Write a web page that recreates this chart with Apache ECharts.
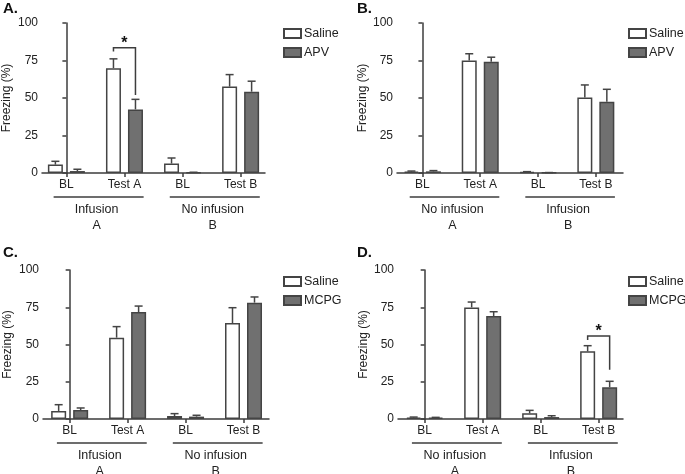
<!DOCTYPE html>
<html><head><meta charset="utf-8">
<script src="https://cdn.jsdelivr.net/npm/echarts@6/dist/echarts.min.js"></script>
<style>html,body{margin:0;padding:0;background:#fff}#c{width:685px;height:474px}</style>
</head><body><div id="c"></div>
<script>
// ---- data ----
const categories = ['BL', 'Test A', 'BL', 'Test B'];
const groupsAC = ['Infusion', 'No infusion'];
const groupsBD = ['No infusion', 'Infusion'];
const contexts = ['A', 'B'];

const salineA = [5.6, 69.9, 6.3, 57.6];
const salineErrA = [2.2, 6.2, 3.7, 8.0];
const apvA = [1.3, 42.4, 0.3, 54.2];
const apvErrA = [1.2, 6.7, 0.2, 7.0];

const salineB = [0.9, 75.0, 0.7, 50.4];
const salineErrB = [0.4, 4.5, 0.2, 8.3];
const apvB = [1.1, 74.1, 0.2, 47.5];
const apvErrB = [0.5, 3.1, 0.1, 8.3];

const salineC = [5.4, 54.6, 2.0, 64.4];
const salineErrC = [4.2, 7.4, 1.6, 10.3];
const mcpgC = [6.0, 71.8, 1.6, 78.1];
const mcpgErrC = [1.4, 4.0, 0.9, 3.8];

const salineD = [0.9, 74.9, 3.8, 45.4];
const salineErrD = [0.4, 3.6, 2.0, 3.8];
const mcpgD = [0.9, 69.1, 1.3, 21.3];
const mcpgErrD = [0.2, 2.9, 0.9, 4.0];

// significance brackets: [category index, left leg bottom, right leg bottom, top]
const sigA = [[1, 81, 52, 83.5]];
const sigD = [[3, 53, 33, 55.7]];

// ---- style ----
const FONT = 'Liberation Sans, Arial, Helvetica, sans-serif';
const TXT = '#222';
const LINE = '#3d3d3d';
const BAR_W = 15;
const BAR_GAP = 0.467;
const HALF_OFF = (BAR_W + BAR_W * BAR_GAP) / 2;

const panels = [
  {label: 'A.', grid: {left: 42, top: 23, width: 223, height: 150}, xr: [-0.42, 3.42], nameGap: 29,
   saline: salineA, salineErr: salineErrA, drug: apvA, drugErr: apvErrA, drugName: 'APV', groups: groupsAC, sig: sigA,
   legend: {left: 283, top: 27}, title: {left: 3, top: 1}},
  {label: 'B.', grid: {left: 397, top: 23, width: 226, height: 150}, xr: [-0.44, 3.47], nameGap: 27,
   saline: salineB, salineErr: salineErrB, drug: apvB, drugErr: apvErrB, drugName: 'APV', groups: groupsBD, sig: [],
   legend: {left: 628, top: 27}, title: {left: 357, top: 1}},
  {label: 'C.', grid: {left: 43, top: 270, width: 226, height: 149}, xr: [-0.46, 3.44], nameGap: 29,
   saline: salineC, salineErr: salineErrC, drug: mcpgC, drugErr: mcpgErrC, drugName: 'MCPG', groups: groupsAC, sig: [],
   legend: {left: 283, top: 275}, title: {left: 3, top: 245}},
  {label: 'D.', grid: {left: 398, top: 270, width: 225, height: 149}, xr: [-0.46, 3.42], nameGap: 27,
   saline: salineD, salineErr: salineErrD, drug: mcpgD, drugErr: mcpgErrD, drugName: 'MCPG', groups: groupsBD, sig: sigD,
   legend: {left: 628, top: 275}, title: {left: 357, top: 245}}
];

const grids = [], xAxes = [], yAxes = [], series = [], legends = [], titles = [];

panels.forEach((p, i) => {
  grids.push(Object.assign({containLabel: false}, p.grid));
  titles.push({text: p.label, left: p.title.left, top: p.title.top, padding: 0,
    textStyle: {fontFamily: FONT, fontSize: 15, fontWeight: 'bold', color: '#111'}});
  xAxes.push({
    type: 'value', gridIndex: i, min: p.xr[0], max: p.xr[1],
    splitLine: {show: false},
    axisLine: {show: true, lineStyle: {color: LINE, width: 1.5}},
    axisTick: {show: true, customValues: [0, 1, 2, 3], length: 4, lineStyle: {color: LINE, width: 1.5}},
    axisLabel: {customValues: [0, 1, 2, 3], formatter: v => categories[Math.round(v)],
      margin: 6, fontSize: 12, fontFamily: FONT, color: TXT}
  });
  yAxes.push({
    type: 'value', gridIndex: i, min: 0, max: 100, interval: 25,
    name: 'Freezing (%)', nameLocation: 'middle', nameGap: p.nameGap,
    nameTextStyle: {fontSize: 12, fontFamily: FONT, color: TXT},
    splitLine: {show: false},
    axisLine: {show: true, lineStyle: {color: LINE, width: 1.5}},
    axisTick: {show: true, length: 4, lineStyle: {color: LINE, width: 1.5}},
    axisLabel: {margin: 4, fontSize: 12, fontFamily: FONT, color: TXT}
  });
  legends.push({
    left: p.legend.left, top: p.legend.top, orient: 'vertical', icon: 'rect',
    itemWidth: 17, itemHeight: 9, itemGap: 6, padding: 0,
    data: ['Saline', p.drugName],
    textStyle: {fontSize: 12.5, fontFamily: FONT, color: TXT, padding: [0, 0, 0, -2]},
    selectedMode: false
  });
  series.push({
    type: 'bar', name: 'Saline', xAxisIndex: i, yAxisIndex: i,
    barWidth: BAR_W, barGap: (BAR_GAP * 100) + '%',
    itemStyle: {color: '#fff', borderColor: '#444', borderWidth: 1.5},
    data: p.saline.map((v, k) => [k, v]), z: 2
  });
  series.push({
    type: 'bar', name: p.drugName, xAxisIndex: i, yAxisIndex: i,
    barWidth: BAR_W, barGap: (BAR_GAP * 100) + '%',
    itemStyle: {color: '#707070', borderColor: '#444', borderWidth: 1.5},
    data: p.drug.map((v, k) => [k, v]), z: 2
  });
  // error bars
  const errData = [];
  p.saline.forEach((v, k) => errData.push([k, v, p.salineErr[k], -1]));
  p.drug.forEach((v, k) => errData.push([k, v, p.drugErr[k], 1]));
  series.push({
    type: 'custom', name: 'err' + i, xAxisIndex: i, yAxisIndex: i, clip: false, z: 3,
    encode: {x: 0, y: 1},
    data: errData,
    renderItem: (params, api) => {
      const x = api.value(0), y = api.value(1), e = api.value(2), s = api.value(3);
      const p0 = api.coord([x, y]);
      const p1 = api.coord([x, y + e]);
      const cx = p0[0] + s * HALF_OFF;
      const st = {stroke: '#444', lineWidth: 1.5};
      return {type: 'group', children: [
        {type: 'line', shape: {x1: cx, y1: p0[1], x2: cx, y2: p1[1]}, style: st},
        {type: 'line', shape: {x1: cx - 4, y1: p1[1], x2: cx + 4, y2: p1[1]}, style: st}
      ]};
    }
  });
  // group brackets below axis
  series.push({
    type: 'custom', name: 'grp' + i, xAxisIndex: i, yAxisIndex: i, clip: false, silent: true,
    encode: {x: 0, y: 1},
    data: [[0, 0], [2, 0]],
    renderItem: (params, api) => {
      const g = api.value(0);
      const idx = params.dataIndex;
      const a = api.coord([g - 0.22, 0]);
      const b = api.coord([g + 1.33, 0]);
      const c = api.coord([g + 0.52, 0]);
      return {type: 'group', children: [
        {type: 'line', shape: {x1: a[0], y1: a[1] + 24, x2: b[0], y2: b[1] + 24},
          style: {stroke: LINE, lineWidth: 1.5}},
        {type: 'text', x: c[0], y: c[1] + 37,
          style: {text: p.groups[idx], align: 'center', verticalAlign: 'middle', fontSize: 12.5, fontFamily: FONT, fill: TXT}},
        {type: 'text', x: c[0], y: c[1] + 53,
          style: {text: contexts[idx], align: 'center', verticalAlign: 'middle', fontSize: 12.5, fontFamily: FONT, fill: TXT}}
      ]};
    }
  });
  if (p.sig.length) {
    series.push({
      type: 'custom', name: 'sig' + i, xAxisIndex: i, yAxisIndex: i, clip: false, silent: true,
      encode: {x: 0, y: 3},
      data: p.sig,
      renderItem: (params, api) => {
        const g = api.value(0);
        const l = api.coord([g, api.value(1)]);
        const r = api.coord([g, api.value(2)]);
        const t = api.coord([g, api.value(3)]);
        const xl = t[0] - HALF_OFF, xr = t[0] + HALF_OFF;
        return {type: 'group', children: [
          {type: 'polyline', shape: {points: [[xl, l[1]], [xl, t[1]], [xr, t[1]], [xr, r[1]]]},
            style: {stroke: LINE, lineWidth: 1.5, fill: null}},
          {type: 'text', x: t[0], y: t[1] + 4,
            style: {text: '*', align: 'center', verticalAlign: 'bottom', fontSize: 16, fontWeight: 'bold', fontFamily: FONT, fill: '#111'}}
        ]};
      }
    });
  }
});

const chart = echarts.init(document.getElementById('c'), null, {renderer: 'canvas'});
chart.setOption({
  animation: false,
  backgroundColor: '#fff',
  title: titles,
  legend: legends,
  grid: grids,
  xAxis: xAxes,
  yAxis: yAxes,
  series: series
});
</script></body></html>
